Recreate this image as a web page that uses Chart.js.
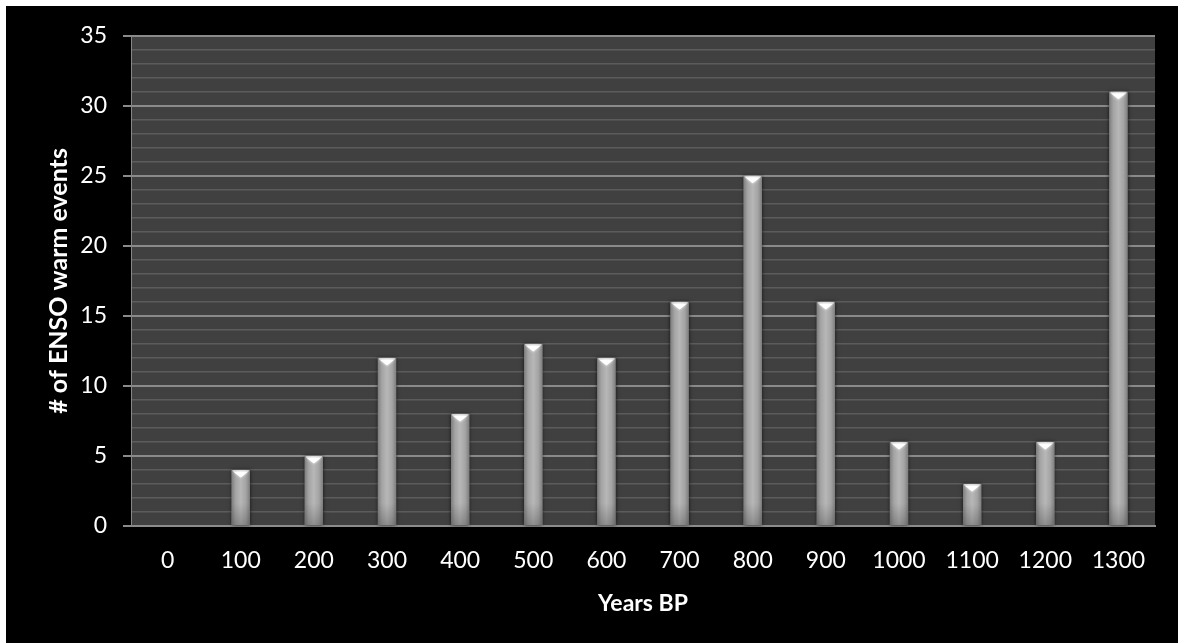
<!DOCTYPE html>
<html>
<head>
<meta charset="utf-8">
<script src="https://cdn.jsdelivr.net/npm/chart.js@4.4.1/dist/chart.umd.min.js"></script>
<style>
  html, body { margin: 0; padding: 0; background: #ffffff; }
  #frame { position: absolute; left: 6px; top: 6px; width: 1172px; height: 637px; background: #000000; }
</style>
</head>
<body>
<div id="frame"><canvas id="chart"></canvas></div>
<script>
// Number of ENSO warm events per 100-year bin
const years = ['0', '100', '200', '300', '400', '500', '600', '700', '800', '900', '1000', '1100', '1200', '1300'];
const warmEvents = [0, 4, 5, 12, 8, 13, 12, 16, 25, 16, 6, 3, 6, 31];
const yMax = 35;
const yLabelStep = 5;

const FONT = 'Lato, "Open Sans", sans-serif';

// Dark plot background behind the grid
const plotBackground = {
  id: 'plotBackground',
  beforeDraw(chart) {
    const { ctx, chartArea: a } = chart;
    ctx.save();
    ctx.fillStyle = '#404040';
    ctx.fillRect(a.left, a.top, a.right - a.left, a.bottom - a.top);
    ctx.restore();
  }
};

// Shaded, cylinder-like bars with a bright cap at the top
const shadedBars = {
  id: 'shadedBars',
  afterDatasetsDraw(chart) {
    const { ctx } = chart;
    const meta = chart.getDatasetMeta(0);
    meta.data.forEach((bar) => {
      const p = bar.getProps(['x', 'y', 'base', 'width'], true);
      const h = p.base - p.y;
      if (h <= 0.5) return;
      const left = p.x - p.width / 2;
      ctx.save();
      // soft dark halo
      ctx.shadowColor = 'rgba(0,0,0,0.7)';
      ctx.shadowBlur = 4;
      ctx.fillStyle = '#7a7a7a';
      ctx.fillRect(left, p.y, p.width, h);
      ctx.shadowBlur = 0;
      // horizontal shading
      const g = ctx.createLinearGradient(left, 0, left + p.width, 0);
      g.addColorStop(0, '#7e7e7e');
      g.addColorStop(0.22, '#a4a4a4');
      g.addColorStop(0.5, '#b7b7b7');
      g.addColorStop(0.78, '#a4a4a4');
      g.addColorStop(1, '#7e7e7e');
      ctx.fillStyle = g;
      ctx.fillRect(left, p.y, p.width, h);
      // gentle darkening near the base
      const fade = Math.min(22, h / 2);
      const gv = ctx.createLinearGradient(0, p.base - fade, 0, p.base);
      gv.addColorStop(0, 'rgba(50,50,50,0)');
      gv.addColorStop(1, 'rgba(50,50,50,0.3)');
      ctx.fillStyle = gv;
      ctx.fillRect(left, p.base - fade, p.width, fade);
      // bright cap
      ctx.fillStyle = 'rgba(215,215,215,0.8)';
      ctx.fillRect(left + 1, p.y, p.width - 2, 1.5);
      ctx.shadowColor = 'rgba(255,255,255,0.9)';
      ctx.shadowBlur = 3;
      ctx.fillStyle = '#ffffff';
      ctx.beginPath();
      ctx.moveTo(p.x - p.width * 0.42, p.y + 1.5);
      ctx.lineTo(p.x + p.width * 0.42, p.y + 1.5);
      ctx.lineTo(p.x, p.y + Math.min(7.5, h));
      ctx.closePath();
      ctx.fill();
      ctx.restore();
    });
  }
};

new Chart(document.getElementById('chart'), {
  type: 'bar',
  data: {
    labels: years,
    datasets: [{
      data: warmEvents,
      backgroundColor: 'rgba(0,0,0,0)',
      borderWidth: 0,
      barPercentage: 0.25,
      categoryPercentage: 1
    }]
  },
  options: {
    responsive: true,
    maintainAspectRatio: false,
    animation: false,
    layout: { padding: { top: 29, right: 23, bottom: 0, left: 0 } },
    plugins: {
      legend: { display: false },
      tooltip: { enabled: false }
    },
    scales: {
      x: {
        afterFit(scale) { scale.height = 117; },
        grid: { display: false, drawTicks: false },
        border: { display: true, color: '#8c8c8c', width: 2 },
        ticks: {
          color: '#ffffff',
          font: { family: FONT, size: 23 },
          padding: 21,
          maxRotation: 0,
          autoSkip: false
        },
        title: {
          display: true,
          text: 'Years BP',
          color: '#ffffff',
          font: { family: FONT, size: 23, weight: 'bold' },
          padding: { top: 0, bottom: 26 }
        }
      },
      y: {
        min: 0,
        max: yMax,
        afterFit(scale) { scale.width = 125; },
        border: { display: true, color: '#868686', width: 1 },
        grid: {
          color: (c) => (c.tick && c.tick.value % yLabelStep === 0) ? '#8a8a8a' : '#5c5c5c',
          lineWidth: (c) => (c.tick && c.tick.value % yLabelStep === 0) ? 2 : 1.5,
          tickColor: (c) => (c.tick && c.tick.value % yLabelStep === 0) ? '#8a8a8a' : 'rgba(0,0,0,0)',
          tickLength: 8,
          drawTicks: true
        },
        ticks: {
          stepSize: 1,
          autoSkip: false,
          color: '#ffffff',
          font: { family: FONT, size: 23 },
          padding: 16,
          callback: (v) => (v % yLabelStep === 0 ? String(v) : '')
        },
        title: {
          display: true,
          text: '# of ENSO warm events',
          color: '#ffffff',
          font: { family: FONT, size: 25, weight: 'bold' },
          padding: { top: 38, bottom: 0 }
        }
      }
    }
  },
  plugins: [plotBackground, shadedBars]
});
</script>
</body>
</html>
